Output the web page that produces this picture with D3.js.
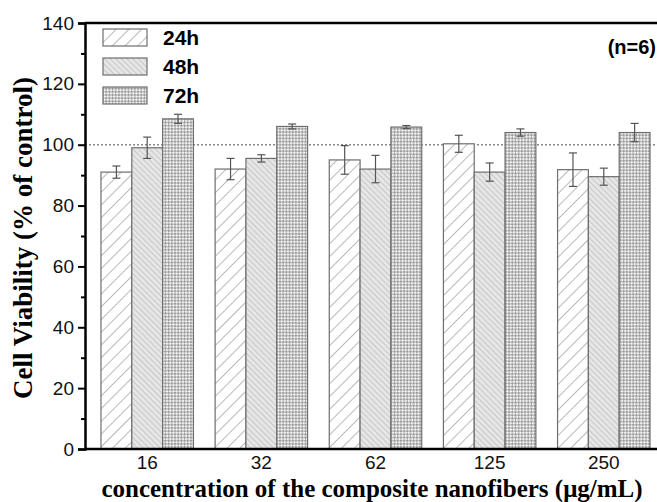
<!DOCTYPE html>
<html>
<head>
<meta charset="utf-8">
<script src="https://cdn.jsdelivr.net/npm/d3@7"></script>
<style>
  body { margin: 0; background: #fff; }
  svg { display: block; }
</style>
</head>
<body>
<div id="chart"></div>
<script>
const concentrations = ['16', '32', '62', '125', '250'];
const series = ['24h', '48h', '72h'];
const values24 = [91, 92, 95, 100.3, 91.8];
const values48 = [99, 95.5, 92, 91, 89.5];
const values72 = [108.5, 106, 105.8, 104, 104];
const err24 = [2, 3.5, 4.7, 2.8, 5.5];
const err48 = [3.5, 1.2, 4.5, 3, 2.8];
const err72 = [1.5, 0.8, 0.5, 1.2, 3];
const yTicks = [0, 20, 40, 60, 80, 100, 120, 140];

const W = 657, H = 502;
const margin = { left: 85, top: 23, bottom: 53 };
const y0 = H - margin.bottom;
const sans = 'Liberation Sans, Arial, sans-serif';
const serif = 'Liberation Serif, Times New Roman, serif';

const svg = d3.select('#chart').append('svg')
  .attr('width', W)
  .attr('height', H);

const defs = svg.append('defs');

// 24h: wide "/" hatching on white
const p1 = defs.append('pattern')
  .attr('id', 'pat24').attr('patternUnits', 'userSpaceOnUse')
  .attr('width', 9).attr('height', 9)
  .attr('patternTransform', 'rotate(45)');
p1.append('rect').attr('width', 9).attr('height', 9).attr('fill', '#fff');
p1.append('line').attr('x1', 0).attr('y1', 0).attr('x2', 0).attr('y2', 9)
  .attr('stroke', '#8a8a8a').attr('stroke-width', 1.2);

// 48h: dense "\" hatching on light gray
const p2 = defs.append('pattern')
  .attr('id', 'pat48').attr('patternUnits', 'userSpaceOnUse')
  .attr('width', 4).attr('height', 4)
  .attr('patternTransform', 'rotate(-45)');
p2.append('rect').attr('width', 4).attr('height', 4).attr('fill', '#e6e6e6');
p2.append('line').attr('x1', 0).attr('y1', 0).attr('x2', 0).attr('y2', 4)
  .attr('stroke', '#a8a8a8').attr('stroke-width', 1);

// 72h: small diagonal checker
const p3 = defs.append('pattern')
  .attr('id', 'pat72').attr('patternUnits', 'userSpaceOnUse')
  .attr('width', 4.5).attr('height', 4.5)
  .attr('patternTransform', 'rotate(45)');
p3.append('rect').attr('width', 4.5).attr('height', 4.5).attr('fill', '#f4f4f4');
p3.append('rect').attr('width', 2.25).attr('height', 2.25).attr('fill', '#999');
p3.append('rect').attr('x', 2.25).attr('y', 2.25).attr('width', 2.25).attr('height', 2.25).attr('fill', '#999');

const fills = { '24h': 'url(#pat24)', '48h': 'url(#pat48)', '72h': 'url(#pat72)' };

const x = d3.scaleBand()
  .domain(concentrations)
  .range([margin.left, 666])
  .paddingInner(0.19)
  .paddingOuter(0.14);

const xs = d3.scaleBand()
  .domain(series)
  .range([0, x.bandwidth()]);

const y = d3.scaleLinear()
  .domain([0, 140])
  .range([y0, margin.top]);

const rows = [];
concentrations.forEach((c, i) => {
  rows.push({ c, s: '24h', v: values24[i], e: err24[i] });
  rows.push({ c, s: '48h', v: values48[i], e: err48[i] });
  rows.push({ c, s: '72h', v: values72[i], e: err72[i] });
});

// reference line at 100
svg.append('line')
  .attr('x1', margin.left).attr('x2', W)
  .attr('y1', y(100)).attr('y2', y(100))
  .attr('stroke', '#888').attr('stroke-width', 1.5)
  .attr('stroke-dasharray', '2,2');

// bars
svg.append('g').selectAll('rect')
  .data(rows)
  .join('rect')
  .attr('x', d => x(d.c) + xs(d.s))
  .attr('y', d => y(d.v))
  .attr('width', xs.bandwidth())
  .attr('height', d => y0 - y(d.v))
  .attr('fill', d => fills[d.s])
  .attr('stroke', '#6e6e6e')
  .attr('stroke-width', 1.2);

// error bars
const eg = svg.append('g').attr('stroke', '#555').attr('stroke-width', 1.2);
rows.forEach(d => {
  const cx = x(d.c) + xs(d.s) + xs.bandwidth() / 2;
  eg.append('line').attr('x1', cx).attr('x2', cx)
    .attr('y1', y(d.v + d.e)).attr('y2', y(d.v - d.e));
  [d.v + d.e, d.v - d.e].forEach(v => {
    eg.append('line').attr('x1', cx - 4).attr('x2', cx + 4)
      .attr('y1', y(v)).attr('y2', y(v));
  });
});

// axes
const yAxis = svg.append('g')
  .attr('transform', `translate(${margin.left},0)`)
  .call(d3.axisLeft(y).tickValues(yTicks).tickSize(7).tickPadding(4));
svg.append('g')
  .attr('transform', `translate(${margin.left},0)`)
  .call(d3.axisLeft(y).tickValues(d3.range(10, 140, 20)).tickSize(4).tickFormat(''))
  .call(g => g.select('.domain').remove())
  .selectAll('line').attr('stroke-width', 2);
yAxis.select('.domain').attr('stroke-width', 2.5);
yAxis.selectAll('.tick line').attr('stroke-width', 2);
yAxis.selectAll('text')
  .attr('font-family', sans)
  .attr('font-size', 19).attr('fill', '#111');

const xAxis = svg.append('g')
  .attr('transform', `translate(0,${y0})`)
  .call(d3.axisBottom(x).tickSize(0).tickPadding(7));
xAxis.select('.domain').attr('d', `M${margin.left},0H${W}`).attr('stroke-width', 2.5);
xAxis.selectAll('text')
  .attr('font-family', sans)
  .attr('font-size', 19).attr('fill', '#111');

// top frame
svg.append('line')
  .attr('x1', margin.left).attr('x2', W)
  .attr('y1', margin.top).attr('y2', margin.top)
  .attr('stroke', '#000').attr('stroke-width', 2.5);

// titles
svg.append('text')
  .attr('transform', 'translate(32,238) rotate(-90)')
  .attr('text-anchor', 'middle')
  .attr('font-family', serif)
  .attr('font-weight', 'bold').attr('font-size', 27)
  .text('Cell Viability (% of control)');

svg.append('text')
  .attr('x', 372).attr('y', 497)
  .attr('text-anchor', 'middle')
  .attr('font-family', serif)
  .attr('font-weight', 'bold').attr('font-size', 25)
  .text('concentration of the composite nanofibers (\u03bcg/mL)');

svg.append('text')
  .attr('x', 656).attr('y', 54)
  .attr('text-anchor', 'end')
  .attr('font-family', sans)
  .attr('font-weight', 'bold').attr('font-size', 20)
  .text('(n=6)');

// legend
const legend = svg.append('g').selectAll('g')
  .data(series)
  .join('g')
  .attr('transform', (d, i) => `translate(103,${29 + i * 29})`);
legend.append('rect')
  .attr('width', 44).attr('height', 17)
  .attr('fill', d => fills[d])
  .attr('stroke', '#6e6e6e').attr('stroke-width', 1.2);
legend.append('text')
  .attr('x', 60).attr('y', 16)
  .attr('font-family', sans)
  .attr('font-weight', 'bold').attr('font-size', 21)
  .text(d => d);
</script>
</body>
</html>
